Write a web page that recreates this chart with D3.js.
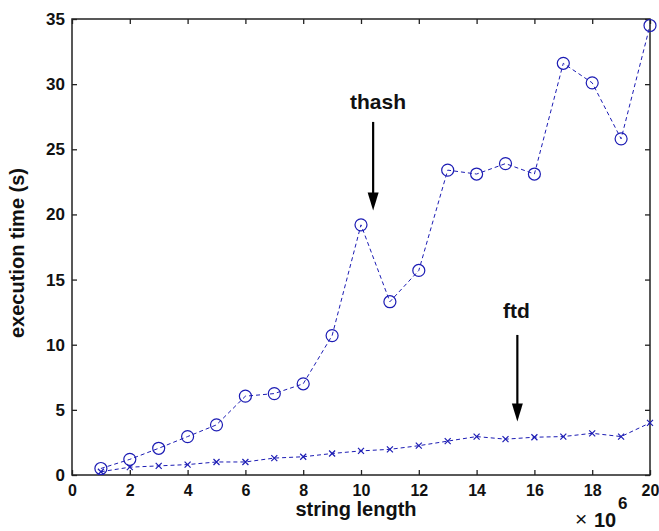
<!DOCTYPE html>
<html lang="en">
<head>
	<meta charset="UTF-8">
	<title>thash vs ftd execution time</title>
	<script src="https://d3js.org/d3.v7.min.js"></script>
	<style>
		html, body {
			margin: 0;
			padding: 0;
			background: #fff;
			overflow: hidden;
		}
		svg {
			display: block;
		}
		svg text {
			font-family: 'Liberation Sans', Arial, Helvetica, sans-serif;
			fill: #111;
		}
		.tick text {
			font-weight: bold;
		}
		.axisLabel {
			font-size: 20px;
			font-weight: bold;
		}
		.series {
			fill: none;
			stroke: #1c1cb4;
			stroke-width: 1;
			stroke-dasharray: 4 3;
		}
		.marker {
			fill: none;
			stroke: #1c1cb4;
			stroke-width: 1.2;
		}
	</style>
</head>
<body>
	<div id="chart"></div>
	<script>

	// string length (x 10^6)
	var lengths = [1, 2, 3, 4, 5, 6, 7, 8, 9, 10, 11, 12, 13, 14, 15, 16, 17, 18, 19, 20];

	// execution time (s)
	var thashTimes = [0.5, 1.2, 2.05, 2.95, 3.85, 6.05, 6.25, 7.0, 10.7, 19.2,
	                  13.3, 15.7, 23.4, 23.1, 23.9, 23.1, 31.6, 30.1, 25.8, 34.5];
	var ftdTimes   = [0.25, 0.6, 0.7, 0.8, 1.0, 1.0, 1.3, 1.4, 1.65, 1.85,
	                  1.97, 2.25, 2.6, 2.95, 2.75, 2.9, 2.95, 3.2, 2.95, 4.0];

	var xTicks = [0, 2, 4, 6, 8, 10, 12, 14, 16, 18, 20];
	var yTicks = [0, 5, 10, 15, 20, 25, 30, 35];

	// arrow annotations, in data units
	var notes = [
		{label: 'thash', x: 10.42, textX: 10.59, textY: 28.1, from: 27.1, to: 20.3},
		{label: 'ftd',   x: 15.41, textX: 15.38, textY: 12.05, from: 10.75, to: 4.1}
	];

	var width = 659,
	    height = 531,
	    margin = {top: 19, right: 9, bottom: 56, left: 72};

	var innerW = width - margin.left - margin.right,
	    innerH = height - margin.top - margin.bottom;

	var svg = d3.select('#chart')
		.append('svg')
		.attr('width', width)
		.attr('height', height);

	var g = svg.append('g')
		.attr('transform', 'translate(' + margin.left + ',' + margin.top + ')');

	var x = d3.scaleLinear().domain([0, 20]).range([0, innerW]);
	var y = d3.scaleLinear().domain([0, 35]).range([innerH, 0]);

	// axes, ticks pointing inward like matlab
	g.append('g')
		.attr('transform', 'translate(0,' + innerH + ')')
		.call(d3.axisBottom(x).tickValues(xTicks).tickSizeInner(-5).tickSizeOuter(0).tickPadding(10))
		.call(function(a) { a.select('.domain').remove(); })
		.selectAll('text').style('font-size', '16px');

	g.append('g')
		.call(d3.axisLeft(y).tickValues(yTicks).tickSizeInner(-5).tickSizeOuter(0).tickPadding(7))
		.call(function(a) { a.select('.domain').remove(); })
		.selectAll('text').style('font-size', '17px');

	g.append('g')
		.call(d3.axisTop(x).tickValues(xTicks).tickSizeInner(-5).tickSizeOuter(0).tickFormat(''))
		.call(function(a) { a.select('.domain').remove(); });

	g.append('g')
		.attr('transform', 'translate(' + innerW + ',0)')
		.call(d3.axisRight(y).tickValues(yTicks).tickSizeInner(-5).tickSizeOuter(0).tickFormat(''))
		.call(function(a) { a.select('.domain').remove(); });

	g.selectAll('.tick line').attr('stroke', '#222').attr('stroke-width', 1.3);

	// box
	g.append('rect')
		.attr('width', innerW)
		.attr('height', innerH)
		.attr('fill', 'none')
		.attr('stroke', '#222')
		.attr('stroke-width', 1.5);

	var line = d3.line()
		.x(function(d) { return x(d[0]); })
		.y(function(d) { return y(d[1]); });

	var thash = lengths.map(function(l, i) { return [l, thashTimes[i]]; });
	var ftd = lengths.map(function(l, i) { return [l, ftdTimes[i]]; });

	g.append('path').attr('class', 'series').attr('d', line(thash));
	g.append('path').attr('class', 'series').attr('d', line(ftd));

	g.selectAll('.circ')
		.data(thash)
		.enter().append('circle')
		.attr('class', 'marker')
		.attr('cx', function(d) { return x(d[0]); })
		.attr('cy', function(d) { return y(d[1]); })
		.attr('r', 6);

	var s = 3;
	g.selectAll('.cross')
		.data(ftd)
		.enter().append('path')
		.attr('class', 'marker')
		.attr('d', function(d) {
			var cx = x(d[0]), cy = y(d[1]);
			return 'M' + (cx - s) + ',' + (cy - s) + 'L' + (cx + s) + ',' + (cy + s) +
			       'M' + (cx - s) + ',' + (cy + s) + 'L' + (cx + s) + ',' + (cy - s);
		});

	// annotations
	notes.forEach(function(n) {
		var ax = x(n.x), top = y(n.from), tip = y(n.to);
		g.append('text')
			.attr('x', x(n.textX))
			.attr('y', y(n.textY))
			.attr('text-anchor', 'middle')
			.style('font-size', '21px')
			.style('font-weight', 'bold')
			.text(n.label);
		g.append('line')
			.attr('x1', ax).attr('x2', ax)
			.attr('y1', top).attr('y2', tip - 14)
			.attr('stroke', '#000')
			.attr('stroke-width', 2.2);
		g.append('path')
			.attr('d', 'M' + (ax - 5.5) + ',' + (tip - 18) + 'L' + (ax + 5.5) + ',' + (tip - 18) + 'L' + ax + ',' + tip + 'Z')
			.attr('fill', '#000');
	});

	// axis labels
	svg.append('text')
		.attr('class', 'axisLabel')
		.attr('x', 356)
		.attr('y', 516)
		.attr('text-anchor', 'middle')
		.text('string length');

	svg.append('text')
		.attr('class', 'axisLabel')
		.attr('transform', 'translate(24,253) rotate(-90)')
		.attr('text-anchor', 'middle')
		.text('execution time (s)');

	// x 10^6 multiplier
	svg.append('text')
		.attr('x', 575)
		.attr('y', 526)
		.style('font-size', '21px')
		.text('\u00d7');
	svg.append('text')
		.attr('x', 594)
		.attr('y', 527)
		.style('font-size', '20px')
		.style('font-weight', 'bold')
		.text('10');
	svg.append('text')
		.attr('x', 618)
		.attr('y', 509)
		.style('font-size', '17px')
		.style('font-weight', 'bold')
		.text('6');

	</script>
</body>
</html>
